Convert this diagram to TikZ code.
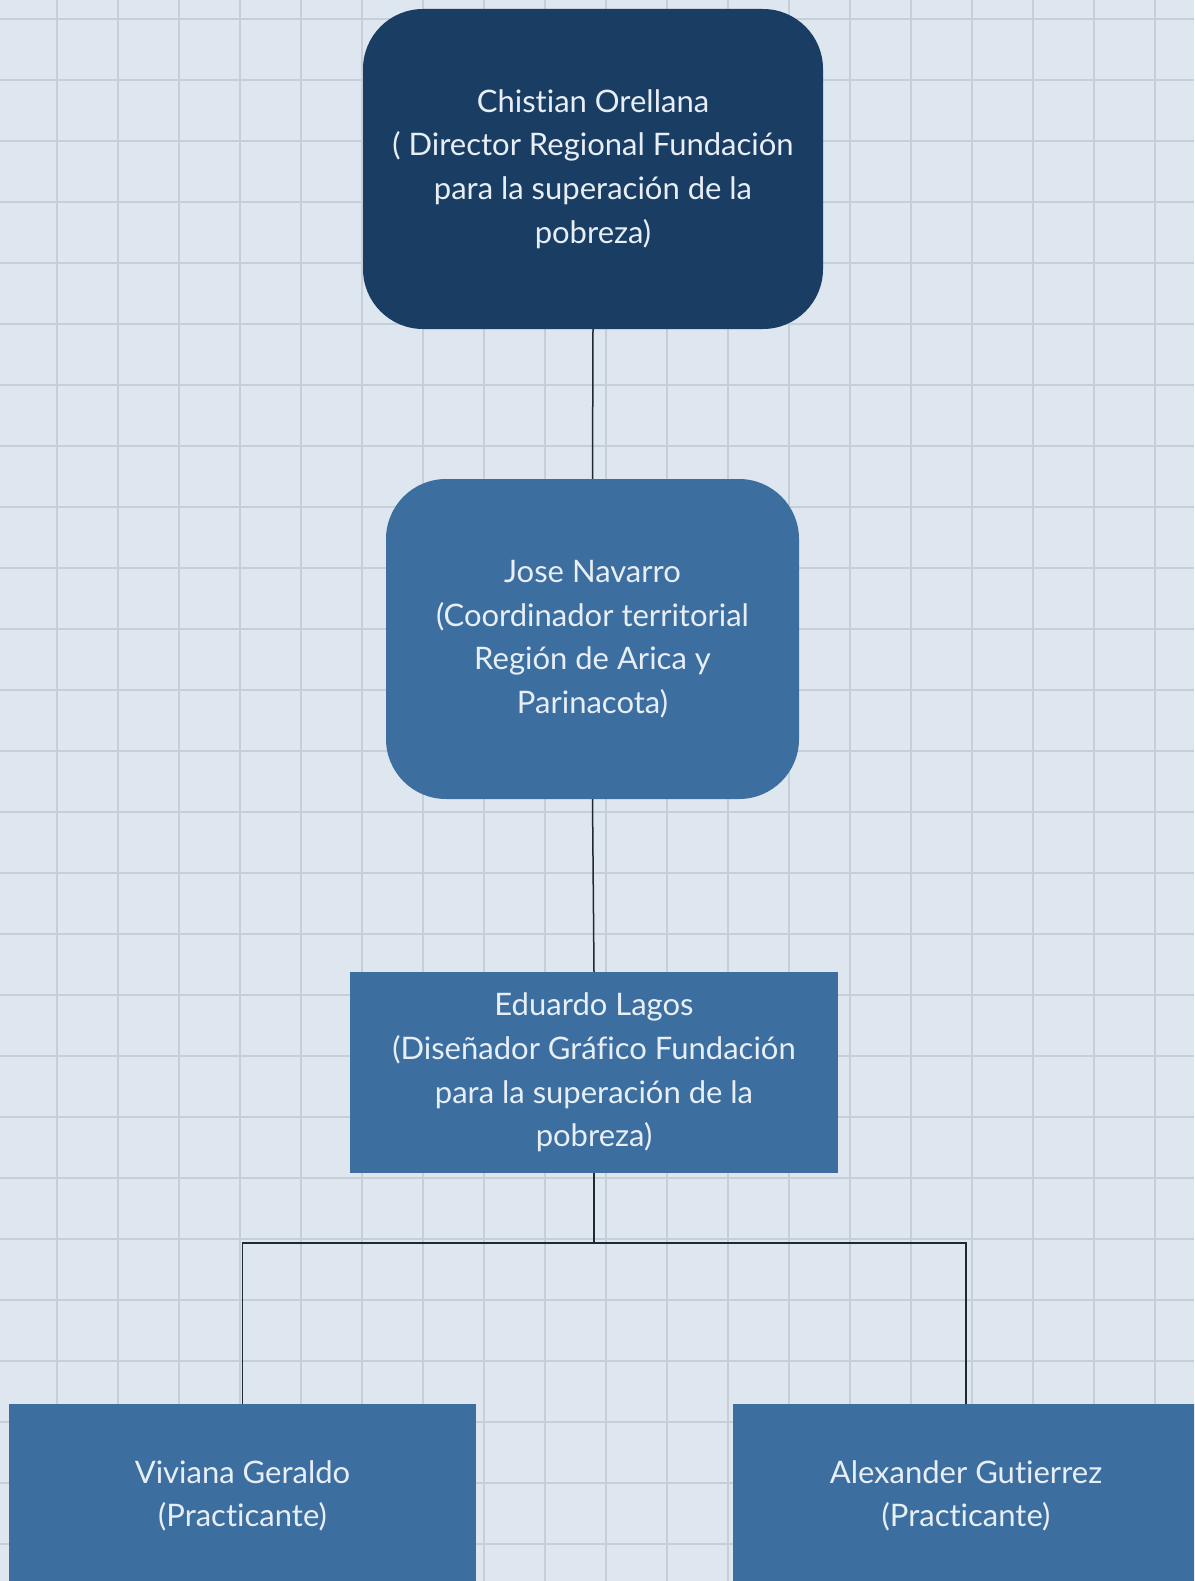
\documentclass[tikz,border=0pt]{standalone}
\usepackage{fontspec}
\setmainfont{Lato}[Ligatures=NoCommon]
\usepackage{xcolor}
\usepackage{tikz}
\definecolor{paper}{HTML}{DEE6F0}
\definecolor{gridgray}{HTML}{C6CED8}
\definecolor{navy}{HTML}{1A3D63}
\definecolor{steel}{HTML}{3C6E9F}
\definecolor{inktext}{HTML}{E8EEF5}
\definecolor{wire}{HTML}{1F2933}

\begin{document}
\begin{tikzpicture}[x=1pt, y=-1pt]
        \useasboundingbox (0,0) rectangle (1194,1581);
        \clip (0,0) rectangle (1194,1581);
        \fill[paper] (0,0) rectangle (1194,1581);
        \tikzstyle{GridStyle} = [gridgray, line width=1.6pt]
        \foreach \gx in {0,...,18}
            \draw[GridStyle] (57+61*\gx,0) -- (57+61*\gx,1581);
        \foreach \gy in {0,...,25}
            \draw[GridStyle] (0,19+61*\gy) -- (1194,19+61*\gy);
        \tikzstyle{BoxStyle} = [fill=steel, text=inktext, align=center,
            font=\fontsize{31}{43.6}\selectfont, inner sep=0pt]
        \tikzstyle{EdgeStyle} = [draw=wire, line width=1.5pt]
        \node[BoxStyle, fill=navy, rounded corners=60pt,
              minimum width=460pt, minimum height=320pt] (orellana) at (593,169)
            {Chistian Orellana\\( Director Regional Fundación\\para la superación de la\\pobreza)};
        \node[BoxStyle, rounded corners=60pt,
              minimum width=413pt, minimum height=320pt] (navarro) at (592.5,639)
            {Jose Navarro\\(Coordinador territorial\\Región de Arica y\\Parinacota)};
        \node[BoxStyle, minimum width=488pt, minimum height=201pt] (lagos) at (594,1072.5)
            {Eduardo Lagos\\(Diseñador Gráfico Fundación\\para la superación de la\\pobreza)};
        \node[BoxStyle, minimum width=467pt, minimum height=184pt] (geraldo) at (242.5,1496)
            {Viviana Geraldo\\(Practicante)};
        \node[BoxStyle, minimum width=466pt, minimum height=184pt] (gutierrez) at (966,1496)
            {Alexander Gutierrez\\(Practicante)};
        \coordinate (split) at (594,1243);
        \draw[EdgeStyle] (orellana.south) -- (navarro.north);
        \draw[EdgeStyle] (navarro.south) -- (lagos.north);
        \draw[EdgeStyle] (lagos.south) -- (split);
        \draw[EdgeStyle] (geraldo.north) |- (split) -| (gutierrez.north);
    \end{tikzpicture}
\end{document}
